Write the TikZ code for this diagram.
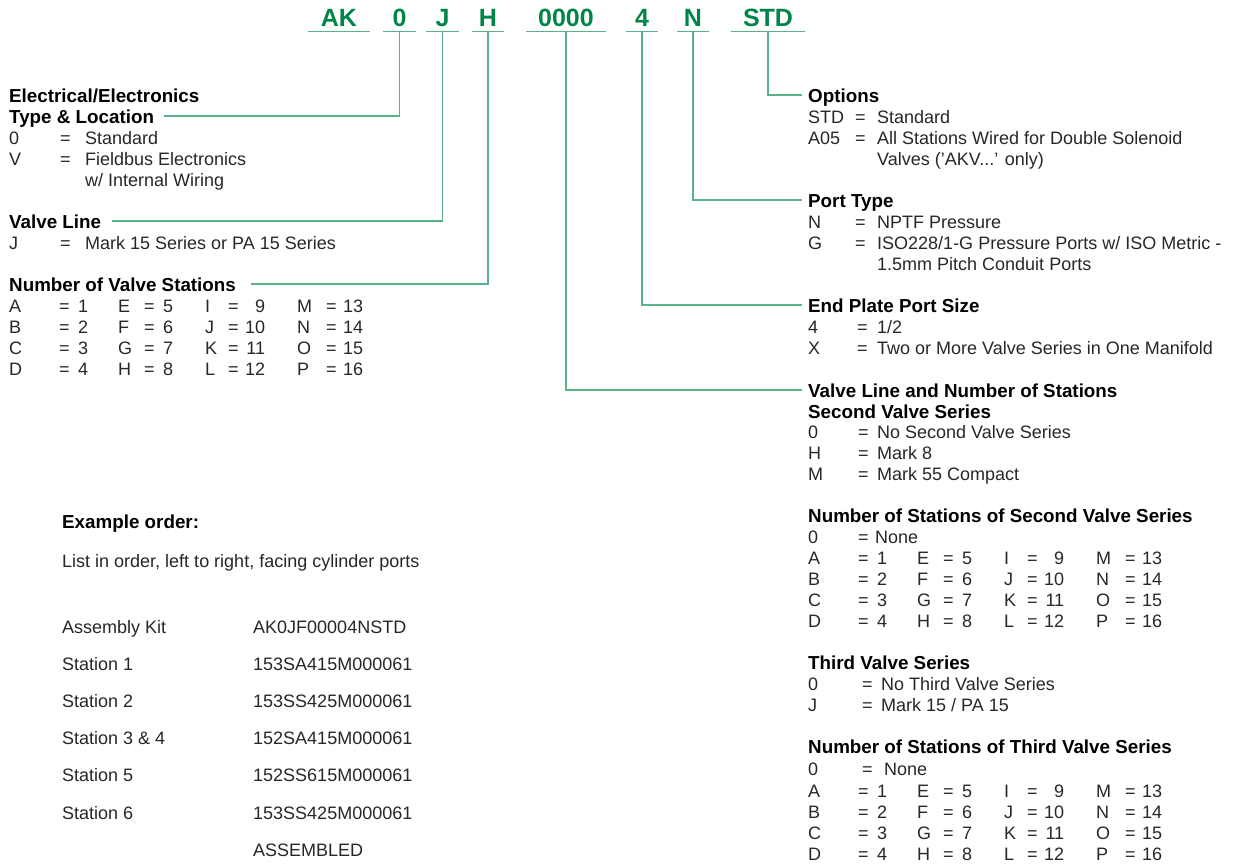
\documentclass[tikz,border=0pt]{standalone}
\usepackage{fontspec}
\setmainfont{Liberation Sans}
\usetikzlibrary{positioning}
\definecolor{codegreen}{RGB}{0,133,72}
\definecolor{linegreen}{RGB}{90,178,138}
\definecolor{inkgray}{RGB}{40,38,38}

% key = value rows
\newcommand{\kv}[2]{\makebox[\kw][l]{#1}\makebox[\ew][l]{=}#2}
% one row of the A..P station table
\newcommand{\gridrow}[8]{%
\makebox[50pt][l]{#1}\makebox[19pt][l]{=}\makebox[40pt][l]{#2}%
\makebox[26pt][l]{#3}\makebox[19pt][l]{=}\makebox[42pt][l]{#4}%
\makebox[23pt][l]{#5}\makebox[16pt][l]{=}\makebox[21pt][r]{#6}\hspace{32pt}%
\makebox[29pt][l]{#7}\makebox[17pt][l]{=}#8}
\newcommand{\stationgrid}[3]{%
  \foreach \ka/\ke/\ki/\km [count=\rw from 0] in {A/E/I/M,B/F/J/N,C/G/K/O,D/H/L/P}{
    \pgfmathtruncatemacro\numa{\rw+1}
    \pgfmathtruncatemacro\numb{\rw+5}
    \pgfmathtruncatemacro\numc{\rw+9}
    \pgfmathtruncatemacro\numd{\rw+13}
    \node[txt] (#1\rw) at (#2,{#3+21*\rw}) {\gridrow{\ka}{\numa}{\ke}{\numb}{\ki}{\numc}{\km}{\numd}};
  }}

\begin{document}
\begin{tikzpicture}[
  x=1pt, y=-1pt,
  font=\fontsize{18pt}{21pt}\selectfont,
  codechar/.style={font=\bfseries\fontsize{25pt}{25pt}\selectfont, text=codegreen, anchor=base, inner sep=0pt, text depth=5pt, minimum width=#1},
  head/.style={font=\bfseries\fontsize{18.8pt}{21pt}\selectfont, anchor=base west, inner sep=0pt, text height=14pt, text depth=0pt},
  txt/.style={anchor=base west, inner sep=0pt, text=inkgray},
  uline/.style={draw=linegreen, line width=1.4pt},
  conn/.style={draw=linegreen, line width=1.4pt}
]
\useasboundingbox (0,0) rectangle (1240,865);

% Order code
\foreach \nm/\cx/\w in {AK/339/61,0/399.5/32,J/442.5/32,H/488/32,0000/566/80,4/642/32,N/693/32,STD/768/74}{
  \node[codechar=\w pt] (c\nm) at (\cx,26) {\nm};
  \draw[uline] (c\nm.south west) -- (c\nm.south east);
}

% Left column
\def\kw{51pt}\def\ew{25pt}
\node[head] (hElec) at (9,102) {Electrical/Electronics};
\node[head] (hType) at (9,123) {Type \& Location};
\node[txt] (eStd) at (9,144) {\kv{0}{Standard}};
\node[txt] (eField) at (9,165) {\kv{V}{Fieldbus Electronics}};
\node[txt] (eWire) at (85,186) {w/ Internal Wiring};

\node[head] (hValve) at (9,228) {Valve Line};
\node[txt] (eMark) at (9,249) {\kv{J}{Mark 15 Series or PA 15 Series}};

\node[head] (hNum) at (9,291) {Number of Valve Stations};
\stationgrid{gOne}{9}{312}

% Example order
\node[head] (hEx) at (62,528) {Example order:};
\node[txt] (exList) at (62,567) {List in order, left to right, facing cylinder ports};
\foreach \lbl/\part [count=\i from 0] in {Assembly Kit/AK0JF00004NSTD,Station 1/153SA415M000061,Station 2/153SS425M000061,Station 3 \& 4/152SA415M000061,Station 5/152SS615M000061,Station 6/153SS425M000061}{
  \node[txt] (exL\i) at (62,{633+37.2*\i}) {\lbl};
  \node[txt] (exP\i) at (253,{633+37.2*\i}) {\part};
}
\node[txt] (exAsm) at (253,856) {ASSEMBLED};

% Right column
\def\kw{47pt}\def\ew{22pt}
\node[head] (hOpt) at (808,102) {Options};
\node[txt] (oStd) at (808,123) {\kv{STD}{Standard}};
\node[txt] (oA05) at (808,144) {\kv{A05}{All Stations Wired for Double Solenoid}};
\node[txt] (oAKV) at (877,165) {Valves ('AKV...' only)};

\node[head] (hPort) at (808,207) {Port Type};
\node[txt] (pN) at (808,228) {\kv{N}{NPTF Pressure}};
\node[txt] (pG) at (808,249) {\kv{G}{ISO228/1-G Pressure Ports w/ ISO Metric -}};
\node[txt] (pPitch) at (877,270) {1.5mm Pitch Conduit Ports};

\def\kw{49pt}\def\ew{20pt}
\node[head] (hEnd) at (808,312) {End Plate Port Size};
\node[txt] (ePs4) at (808,333) {\kv{4}{1/2}};
\node[txt] (ePsX) at (808,354) {\kv{X}{Two or More Valve Series in One Manifold}};

\def\kw{50pt}\def\ew{19pt}
\node[head] (hVL) at (808,397) {Valve Line and Number of Stations};
\node[head] (hSecond) at (808,418) {Second Valve Series};
\node[txt] (s0) at (808,438) {\kv{0}{No Second Valve Series}};
\node[txt] (sH) at (808,459) {\kv{H}{Mark 8}};
\node[txt] (sM) at (808,480) {\kv{M}{Mark 55 Compact}};

\def\kw{50pt}\def\ew{17pt}
\node[head] (hNum2) at (808,522) {Number of Stations of Second Valve Series};
\node[txt] (n20) at (808,543) {\kv{0}{None}};
\stationgrid{gTwo}{808}{564}

\def\kw{54pt}\def\ew{19pt}
\node[head] (hThird) at (808,669) {Third Valve Series};
\node[txt] (t0) at (808,690) {\kv{0}{No Third Valve Series}};
\node[txt] (tJ) at (808,711) {\kv{J}{Mark 15 / PA 15}};

\def\kw{54pt}\def\ew{22pt}
\node[head] (hNum3) at (808,753) {Number of Stations of Third Valve Series};
\node[txt] (n30) at (808,775) {\kv{0}{None}};
\stationgrid{gThree}{808}{797}

% Connectors
\draw[conn] (c0.south) |- ([xshift=10pt]hType.east);
\draw[conn] (cJ.south) |- ([xshift=11pt]hValve.east);
\draw[conn] (cH.south) |- ([xshift=15pt]hNum.east);
\draw[conn] (c0000.south) |- ([xshift=-6pt]hVL.west);
\draw[conn] (c4.south) |- ([xshift=-6pt]hEnd.west);
\draw[conn] (cN.south) |- ([xshift=-6pt]hPort.west);
\draw[conn] (cSTD.south) |- ([xshift=-6pt]hOpt.west);

\end{tikzpicture}
\end{document}
